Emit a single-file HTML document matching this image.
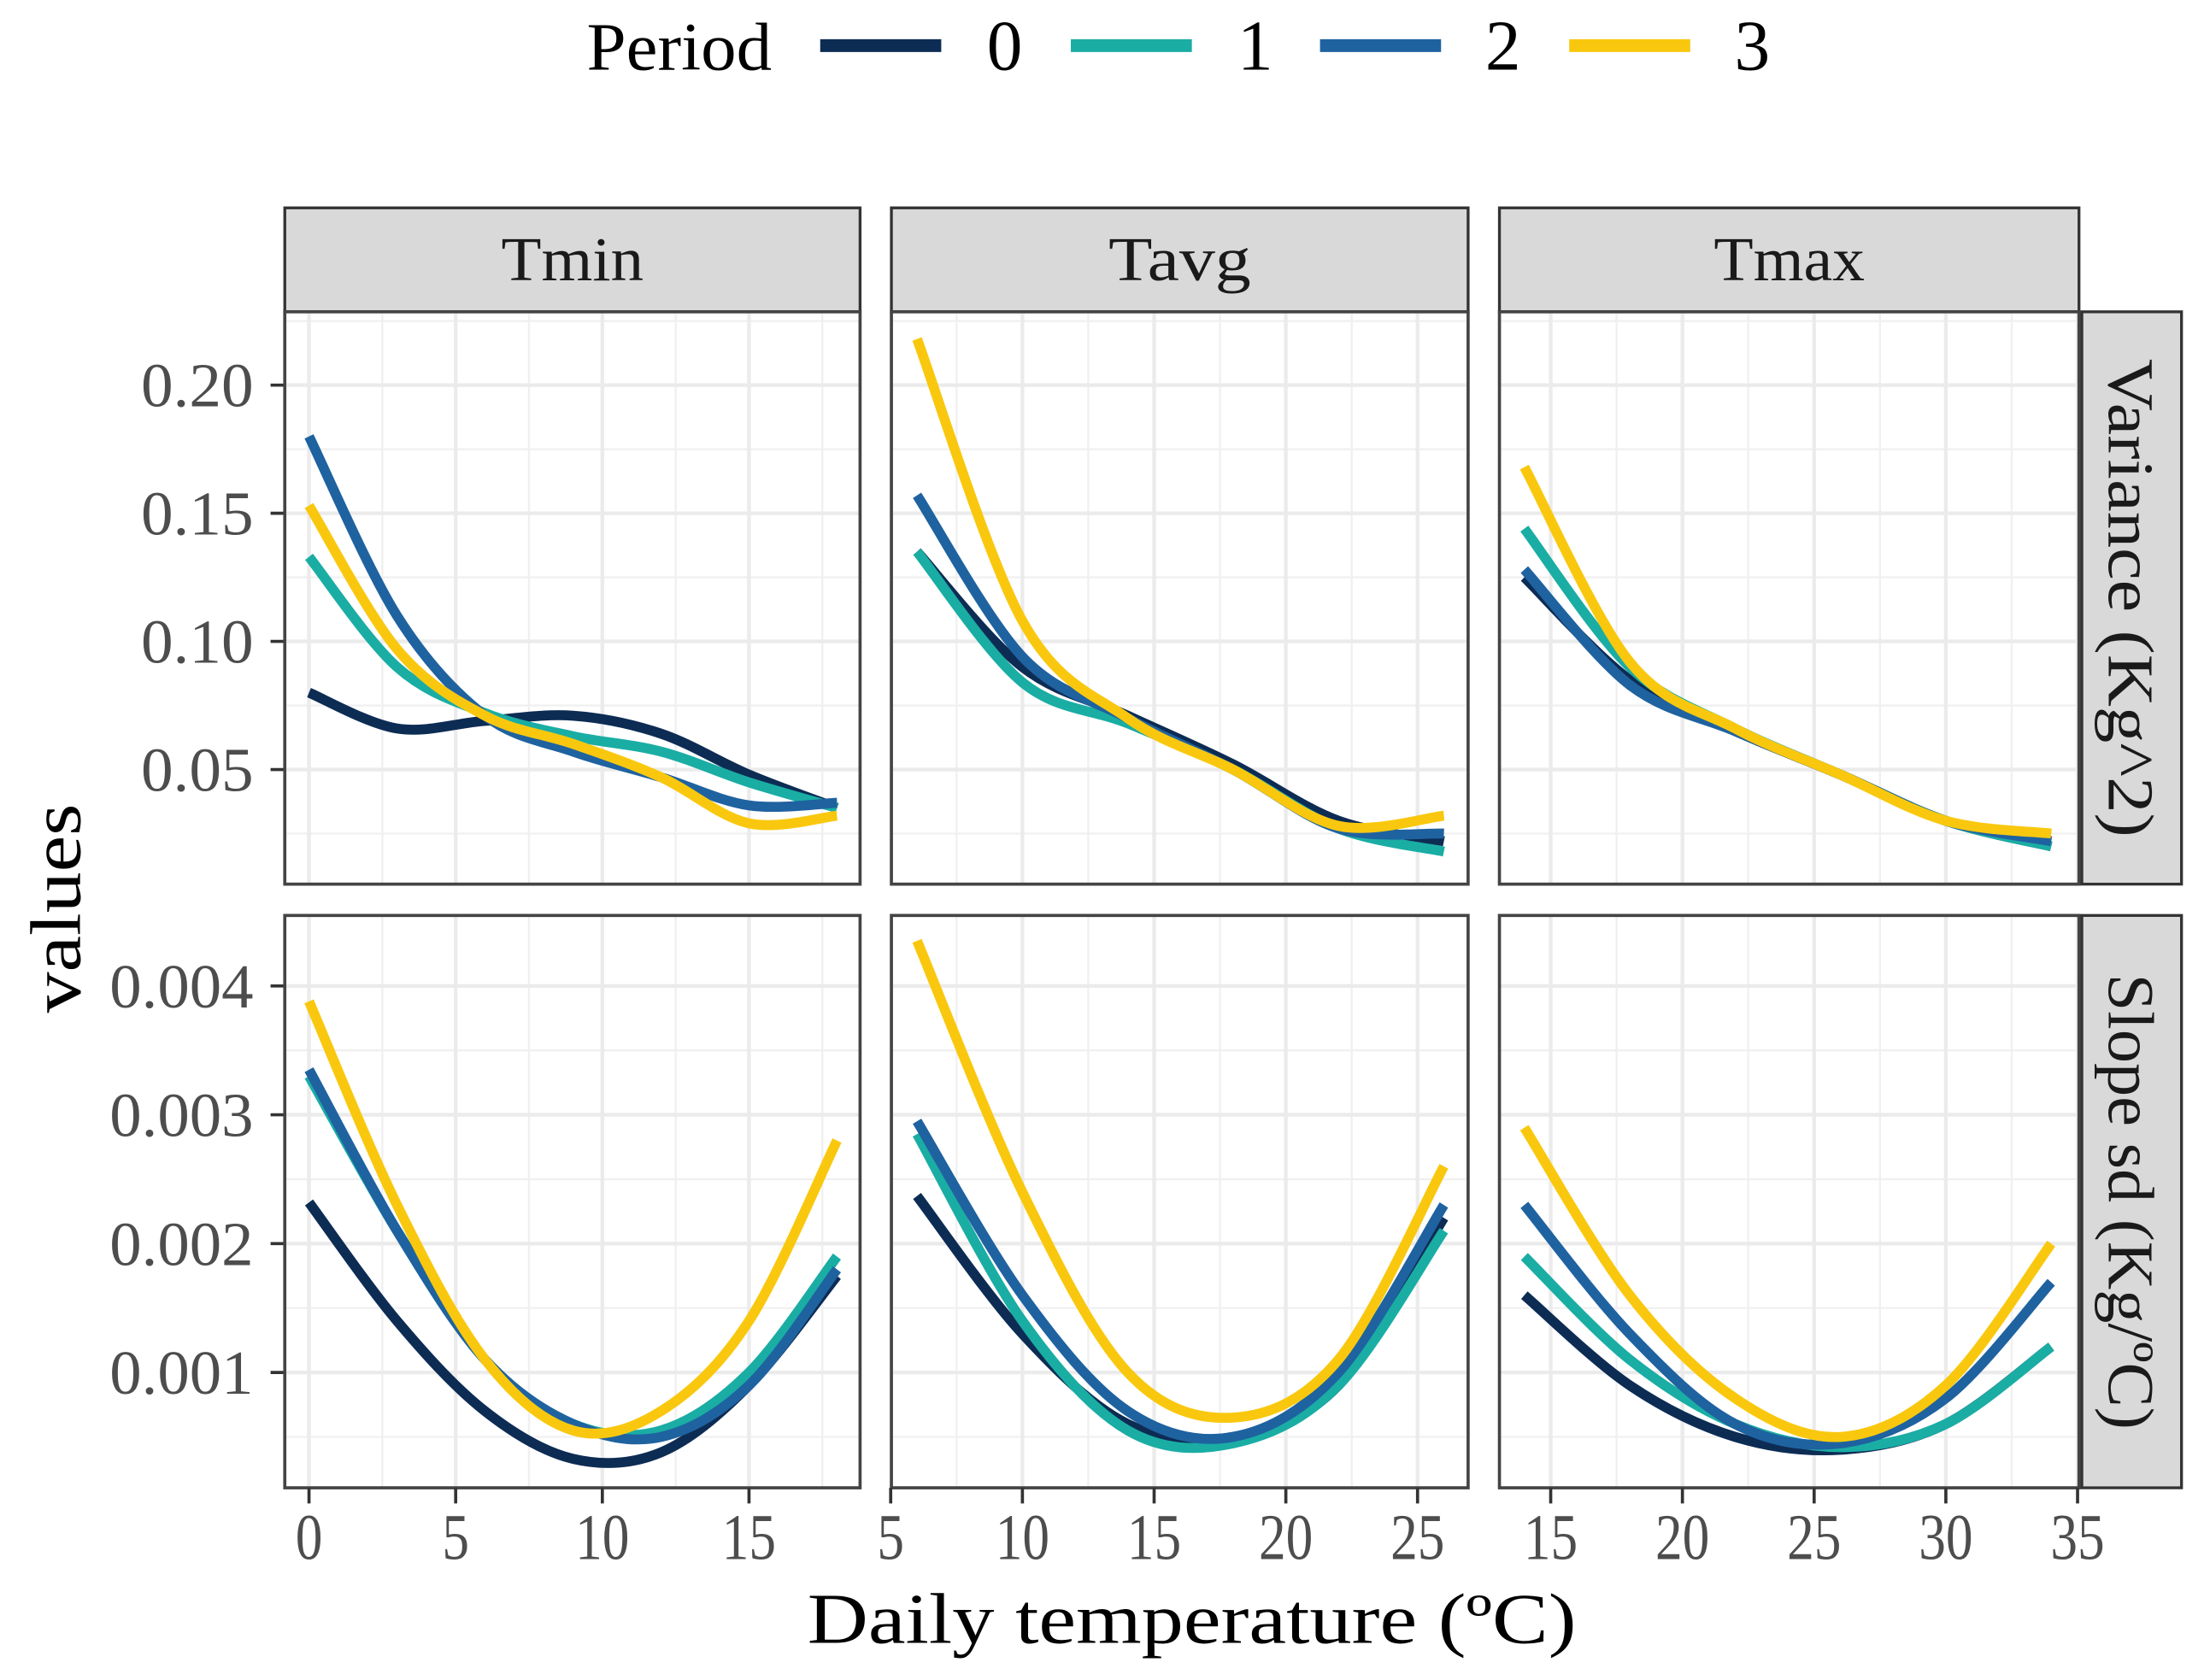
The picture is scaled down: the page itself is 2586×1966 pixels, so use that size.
<!DOCTYPE html>
<html><head><meta charset="utf-8"><style>
html,body{margin:0;padding:0;background:#fff;}
svg{display:block;font-family:"Liberation Serif",serif;}
</style></head><body>
<svg id="chart" width="2586" height="1966" viewBox="0 0 1552 1180" preserveAspectRatio="none" xmlns="http://www.w3.org/2000/svg">
<g>
<text x="412" y="49" font-size="48" textLength="130" lengthAdjust="spacingAndGlyphs" fill="#000">Period</text>
<line x1="576" y1="32" x2="661" y2="32" stroke="#0d2c54" stroke-width="9"/>
<text x="693" y="49" font-size="50" textLength="25" lengthAdjust="spacingAndGlyphs">0</text>
<line x1="752" y1="32" x2="837" y2="32" stroke="#1aada4" stroke-width="9"/>
<text x="869" y="49" font-size="50" textLength="25" lengthAdjust="spacingAndGlyphs">1</text>
<line x1="927" y1="32" x2="1012" y2="32" stroke="#1f62a0" stroke-width="9"/>
<text x="1043" y="49" font-size="50" textLength="25" lengthAdjust="spacingAndGlyphs">2</text>
<line x1="1102" y1="32" x2="1187" y2="32" stroke="#f9c80e" stroke-width="9"/>
<text x="1218" y="49" font-size="50" textLength="25" lengthAdjust="spacingAndGlyphs">3</text>
</g>
<text x="0" y="0" transform="translate(56 638) rotate(-90)" text-anchor="middle" font-size="50" textLength="147" lengthAdjust="spacingAndGlyphs">values</text>
<text x="837" y="1154" text-anchor="middle" font-size="50" textLength="540" lengthAdjust="spacingAndGlyphs">Daily temperature (ºC)</text>
<g id="plot"></g>
</svg>
<script>
const colors=["#0d2c54","#1aada4","#1f62a0","#f9c80e"];
const facetNames=["Tmin","Tavg","Tmax"];
const rowNames=["Variance (Kg^2)","Slope sd (Kg/ºC)"];
const xTmin=[0,3,6,9,12,15,18];
const xTavg=[6,10,14,18,22,26];
const xTmax=[14,18,22,26,30,34];
const varTmin0=[0.080,0.066,0.069,0.071,0.064,0.048,0.035];
const varTmin1=[0.133,0.090,0.072,0.063,0.057,0.045,0.035];
const varTmin2=[0.180,0.110,0.071,0.057,0.047,0.036,0.037];
const varTmin3=[0.153,0.097,0.071,0.060,0.047,0.029,0.032];
const varTavg0=[0.135,0.090,0.071,0.052,0.030,0.022];
const varTavg1=[0.135,0.084,0.068,0.050,0.027,0.018];
const varTavg2=[0.157,0.094,0.070,0.050,0.027,0.025];
const varTavg3=[0.218,0.108,0.070,0.050,0.028,0.032];
const varTmax0=[0.125,0.085,0.065,0.048,0.030,0.020];
const varTmax1=[0.144,0.090,0.066,0.048,0.030,0.020];
const varTmax2=[0.128,0.083,0.065,0.048,0.030,0.022];
const varTmax3=[0.168,0.092,0.066,0.048,0.030,0.025];
const sdTmin0=[0.00232,0.0014,0.0007,0.00033,0.00038,0.0009,0.00175];
const sdTmin1=[0.0033,0.0021,0.0011,0.0006,0.00055,0.0010,0.0019];
const sdTmin2=[0.00335,0.0021,0.0011,0.0006,0.0005,0.0009,0.0018];
const sdTmin3=[0.00388,0.0023,0.0011,0.00055,0.0007,0.0014,0.0028];
const sdTavg0=[0.00237,0.0013,0.0006,0.0005,0.0009,0.0022];
const sdTavg1=[0.00285,0.0014,0.00055,0.00045,0.0009,0.0021];
const sdTavg2=[0.00295,0.0016,0.0007,0.0005,0.0010,0.0023];
const sdTavg3=[0.00435,0.0024,0.0010,0.00065,0.0011,0.0026];
const sdTmax0=[0.0016,0.0009,0.0005,0.0004,0.0006,0.0012];
const sdTmax1=[0.0019,0.0011,0.0006,0.00042,0.0006,0.0012];
const sdTmax2=[0.0023,0.0013,0.0006,0.00045,0.0008,0.0017];
const sdTmax3=[0.0029,0.0016,0.0008,0.0005,0.0009,0.0020];
const xTicksTmin=[0,5,10,15];
const xTicksTavg=[5,10,15,20,25];
const xTicksTmax=[15,20,25,30,35];
const yTicksVar=[0.05,0.10,0.15,0.20];
const yTickLabelsVar=["0.05","0.10","0.15","0.20"];
const yTicksSd=[0.001,0.002,0.003,0.004];
const yTickLabelsSd=["0.001","0.002","0.003","0.004"];

const NS="http://www.w3.org/2000/svg";
const plot=document.getElementById('plot');
function mk(tag,attrs,parent){const e=document.createElementNS(NS,tag);for(const k in attrs)e.setAttribute(k,attrs[k]);(parent||plot).appendChild(e);return e;}
const cols=[
 {x0:200,x1:604,xs:x=>217+(x-0)*20.6,xt:xTicksTmin,xd:xTmin,minor:[-2.5,2.5,7.5,12.5,17.5],sw:100},
 {x0:626,x1:1031,xs:x=>625.5+(x-5)*18.5,xt:xTicksTavg,xd:xTavg,minor:[7.5,12.5,17.5,22.5],sw:100},
 {x0:1053,x1:1460,xs:x=>1089+(x-15)*18.5,xt:xTicksTmax,xd:xTmax,minor:[12.5,17.5,22.5,27.5,32.5],sw:106}];
const rows=[
 {y0:219,y1:621,ys:v=>270.5+(0.20-v)*1800,yt:yTicksVar,yl:yTickLabelsVar,minor:[0.025,0.075,0.125,0.175,0.225],sl:336,
  data:[[varTmin0,varTmin1,varTmin2,varTmin3],[varTavg0,varTavg1,varTavg2,varTavg3],[varTmax0,varTmax1,varTmax2,varTmax3]]},
 {y0:643,y1:1045,ys:v=>692.5+(0.004-v)*90500,yt:yTicksSd,yl:yTickLabelsSd,minor:[0.0005,0.0015,0.0025,0.0035],sl:320,
  data:[[sdTmin0,sdTmin1,sdTmin2,sdTmin3],[sdTavg0,sdTavg1,sdTavg2,sdTavg3],[sdTmax0,sdTmax1,sdTmax2,sdTmax3]]}];
function smooth(pts){let d=`M${pts[0][0]},${pts[0][1]}`;for(let i=0;i<pts.length-1;i++){const p0=pts[i-1]||pts[i],p1=pts[i],p2=pts[i+1],p3=pts[i+2]||p2;
 d+=` C${p1[0]+(p2[0]-p0[0])/6},${p1[1]+(p2[1]-p0[1])/6} ${p2[0]-(p3[0]-p1[0])/6},${p2[1]-(p3[1]-p1[1])/6} ${p2[0]},${p2[1]}`;}return d;}
cols.forEach((c,ci)=>{
 const s=mk('g',{});
 
 
 mk('rect',{x:c.x0,y:146,width:c.x1-c.x0,height:73,fill:'#d9d9d9',stroke:'#333','stroke-width':2},s);
 const t=mk('text',{x:(c.x0+c.x1)/2,y:197,'text-anchor':'middle','font-size':44,textLength:c.sw,lengthAdjust:'spacingAndGlyphs',fill:'#1a1a1a'},s);t.textContent=facetNames[ci];
});
rows.forEach((r,ri)=>{
 const s=mk('g',{});
 
 
 mk('rect',{x:1462,y:r.y0,width:70,height:r.y1-r.y0,fill:'#d9d9d9',stroke:'#333','stroke-width':2},s);
 const t=mk('text',{x:0,y:0,transform:`translate(1481 ${(r.y0+r.y1)/2}) rotate(90)`,'text-anchor':'middle','font-size':46,textLength:r.sl,lengthAdjust:'spacingAndGlyphs',fill:'#1a1a1a'},s);t.textContent=rowNames[ri];
 r.yt.forEach((v,i)=>{const y=r.ys(v);
  const lab=r.yl[i];
  const l=mk('text',{x:178,y:y+15,'text-anchor':'end','font-size':44,fill:'#4d4d4d',textLength:lab.length===4?79:101,lengthAdjust:'spacingAndGlyphs'});l.textContent=lab;
  
  
  mk('line',{x1:190,x2:200,y1:y,y2:y,stroke:'#333','stroke-width':2.2});});
 cols.forEach((c,ci)=>{
  const p=mk('g',{});
  
  
  mk('rect',{x:c.x0,y:r.y0,width:c.x1-c.x0,height:r.y1-r.y0,fill:'#fff'},p);
  const clip='clip'+ri+ci;const cp=mk('clipPath',{id:clip},p);mk('rect',{x:c.x0,y:r.y0,width:c.x1-c.x0,height:r.y1-r.y0},cp);
  const g=mk('g',{'clip-path':`url(#${clip})`},p);
  r.minor.forEach(v=>mk('line',{x1:c.x0,x2:c.x1,y1:r.ys(v),y2:r.ys(v),stroke:'#f0f0f0','stroke-width':1.4},g));
  c.minor.forEach(v=>mk('line',{y1:r.y0,y2:r.y1,x1:c.xs(v),x2:c.xs(v),stroke:'#f0f0f0','stroke-width':1.4},g));
  r.yt.forEach(v=>mk('line',{x1:c.x0,x2:c.x1,y1:r.ys(v),y2:r.ys(v),stroke:'#ebebeb','stroke-width':2.6},g));
  c.xt.forEach(v=>mk('line',{y1:r.y0,y2:r.y1,x1:c.xs(v),x2:c.xs(v),stroke:'#ebebeb','stroke-width':2.6},g));
  r.data[ci].forEach((arr,k)=>{
   const pts=arr.map((v,i)=>[c.xs(c.xd[i]),r.ys(v)]);
   const path=mk('path',{d:smooth(pts),fill:'none',stroke:colors[k],'stroke-width':7},g);
   
   
  });
  mk('rect',{x:c.x0,y:r.y0,width:c.x1-c.x0,height:r.y1-r.y0,fill:'none',stroke:'#444','stroke-width':2.2},p);
 });
});
cols.forEach(c=>{c.xt.forEach(v=>{const x=c.xs(v);
 mk('line',{x1:x,x2:x,y1:1045,y2:1056,stroke:'#333','stroke-width':2.2});
 const s=String(v);
 const t=mk('text',{x:x,y:1095,'text-anchor':'middle','font-size':46,fill:'#4d4d4d',textLength:s.length*19,lengthAdjust:'spacingAndGlyphs'});t.textContent=s;
 
 });});
</script>
</body></html>
